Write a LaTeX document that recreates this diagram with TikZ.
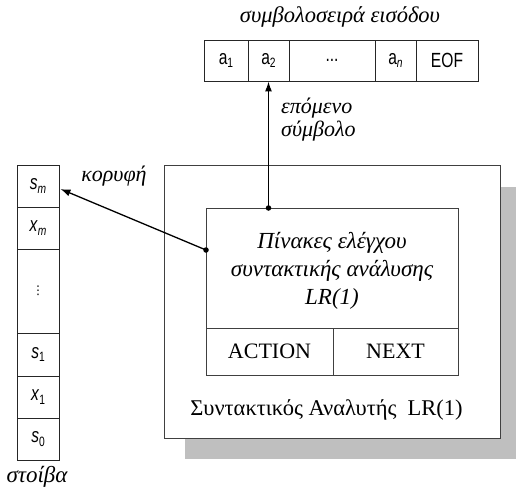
\documentclass[tikz,border=0pt]{standalone}
\usepackage{fontspec}
\setmainfont{Liberation Serif}
\setsansfont{Liberation Sans}
\newfontfamily\dejavu{DejaVu Sans}
\usetikzlibrary{arrows.meta,calc}
\newcommand\cellsub[1]{\raisebox{-0.3ex}{\fontsize{13.5}{13.5}\selectfont #1}}
\newcommand\celltxt[1]{\scalebox{0.76}[1]{#1}}
\tikzset{
  cell/.style={draw=black!85, line width=0.9pt, inner sep=0pt, font=\sffamily\fontsize{20.5}{20.5}\selectfont},
  frame/.style={draw=black!75, line width=0.9pt},
  lbl/.style={font=\itshape\fontsize{22}{22}\selectfont, inner sep=0pt},
  ptr/.style={line width=1.3pt, -{Latex[length=10pt,width=7pt]}},
  pin/.style={fill=black, draw=none, circle, minimum size=5.5pt, inner sep=0pt}
}
\begin{document}
\begin{tikzpicture}[x=1pt,y=-1pt]
\useasboundingbox (0,0) rectangle (518,492);
% shadow and outer parser box
\fill[black!25] (185,187) rectangle (516,459);
\node[frame, fill=white, minimum width=336pt, minimum height=273pt, inner sep=0pt] (parser) at (332,301.5) {};
\node[font=\fontsize{22.5}{22.5}\selectfont, inner sep=0pt] (parserlbl) at (326.5,410) {Συντακτικός Αναλυτής\ \ LR(1)};
% inner tables box
\node[frame, minimum width=252pt, minimum height=120pt, inner sep=0pt] (tables) at (332,268) {};
\node[font=\itshape\fontsize{23}{28}\selectfont, align=center, inner sep=0pt] (tablestxt) at (332,271) {Πίνακες ελέγχου\\συντακτικής ανάλυσης\\LR(1)};
\node[frame, minimum width=127pt, minimum height=47pt, inner sep=0pt, font=\fontsize{22}{22}\selectfont] (action) at (269.5,351.5) {ACTION};
\node[frame, minimum width=125pt, minimum height=47pt, inner sep=0pt, font=\fontsize{22}{22}\selectfont] (next) at (395.5,351.5) {NEXT};
% input tape
\node[lbl, font=\itshape\fontsize{22.5}{22.5}\selectfont] (tapelbl) at (340,17) {συμβολοσειρά εισόδου};
\node[cell, minimum width=44pt, minimum height=41pt] (a1) at (226,60.5) {\celltxt{a\cellsub{1}}};
\node[cell, minimum width=41pt, minimum height=41pt] (a2) at (268.5,60.5) {\celltxt{a\cellsub{2}}};
\node[cell, minimum width=86pt, minimum height=41pt] (tdots) at (332,60.5) {\celltxt{...}};
\node[cell, minimum width=41pt, minimum height=41pt] (an) at (395.5,60.5) {\celltxt{a\cellsub{\textit{n}}}};
\node[cell, minimum width=62pt, minimum height=41pt] (eof) at (447,60.5) {\celltxt{EOF}};
% stack
\node[cell, minimum width=42pt, minimum height=42pt] (sm) at (38,186) {\celltxt{\textit{s}\cellsub{\textit{m}}}};
\node[cell, minimum width=42pt, minimum height=42pt] (xm) at (38,228) {\celltxt{\textit{x}\cellsub{\textit{m}}}};
\node[cell, minimum width=42pt, minimum height=84pt] (sdots) at (38,291) {{\dejavu\fontsize{12}{12}\selectfont ⋮}};
\node[cell, minimum width=42pt, minimum height=43pt] (s1) at (38,354.5) {\celltxt{\textit{s}\cellsub{1}}};
\node[cell, minimum width=42pt, minimum height=42pt] (x1) at (38,397) {\celltxt{\textit{x}\cellsub{1}}};
\node[cell, minimum width=42pt, minimum height=42pt] (s0) at (38,439) {\celltxt{\textit{s}\cellsub{0}}};
\node[lbl, font=\itshape\fontsize{23}{23}\selectfont] (stacklbl) at (37,477) {στοίβα};
% pointers
\node[pin] (pintop) at (268.5,208) {};
\node[pin] (pinleft) at (206,250) {};
\draw[ptr] (pintop.center) -- (a2.south);
\draw[ptr] (pinleft.center) -- ($(sm.east)+(1,3)$);
\node[lbl, anchor=west, align=left, font=\itshape\fontsize{22}{23}\selectfont] (nextlbl) at (281,120) {επόμενο\\σύμβολο};
\node[lbl] (toplbl) at (114,176) {κορυφή};
\end{tikzpicture}
\end{document}
